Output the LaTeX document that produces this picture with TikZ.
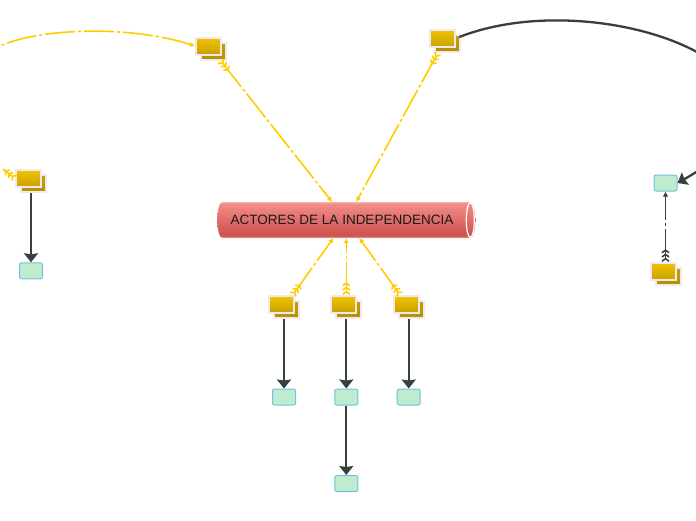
\documentclass[tikz,border=0pt]{standalone}
\usepackage{fontspec}
\setmainfont{Liberation Sans}
\usetikzlibrary{arrows.meta}

\definecolor{linkyellow}{HTML}{FFCC00}
\definecolor{linkdark}{HTML}{36403C}
\definecolor{actortop}{HTML}{F0C400}
\definecolor{actorbottom}{HTML}{C9A000}
\definecolor{actoredge}{HTML}{F1E8F1}
\definecolor{leaffill}{HTML}{BFECCF}
\definecolor{leafedge}{HTML}{6CC4E0}
\definecolor{hubpale}{HTML}{F8ABA9}
\definecolor{hubtop}{HTML}{F28B88}
\definecolor{hubbottom}{HTML}{CF5552}

\pgfdeclareverticalshading{hubshade}{100bp}{
    color(0bp)=(hubpale);
    color(25bp)=(hubpale);
    color(28bp)=(hubbottom);
    color(32bp)=(hubbottom);
    color(72bp)=(hubtop);
    color(75bp)=(hubpale);
    color(100bp)=(hubpale)
}

\tikzset{
    feather/.tip={Straight Barb[reversed,length=2.5pt,width=7pt,sep=0pt]
        Straight Barb[reversed,length=2.5pt,width=7pt,sep=0pt]
        Straight Barb[reversed,length=2.5pt,width=7pt,sep=0pt]},
    actorfront/.style={
        draw=actoredge,
        line width=2pt,
        top color=actortop,
        bottom color=actorbottom,
        minimum width=25pt,
        minimum height=17pt,
        inner sep=0pt
    },
    actorback/.style={
        actorfront,
        top color=actorbottom,
        bottom color=actorbottom!90!black
    },
    actorframe/.style={
        minimum width=31pt,
        minimum height=24pt,
        inner sep=0pt,
        outer sep=0pt
    },
    leaf/.style={
        draw=leafedge,
        fill=leaffill,
        line width=1pt,
        rounded corners=2pt,
        minimum width=23pt,
        minimum height=16pt,
        inner sep=0pt
    },
    yellowlink/.style={
        linkyellow,
        line width=1.6pt,
        dash pattern=on 30pt off 3pt on 3pt off 3pt,
        {feather}-{Latex[length=5pt,width=5.5pt]}
    },
    darklink/.style={
        linkdark,
        line width=2.3pt,
        -{Stealth[length=9pt,width=14pt,inset=1pt]}
    }
}

% stack of two boxes, name is the frame round both
\newcommand{\actorstack}[3]{
    \node[actorback] (#1 back) at (#2+2.5,#3+2.5) {};
    \node[actorfront] (#1 front) at (#2-2.5,#3-2.5) {};
    \node[actorframe] (#1) at (#2,#3) {};
}

\begin{document}
\begin{tikzpicture}[x=1pt,y=-1pt]
\useasboundingbox (0,0) rectangle (696,520);
\clip (0,0) rectangle (696,520);
\fill[white] (0,0) rectangle (696,520);

\node[
    minimum width=258pt,
    minimum height=36pt,
    inner sep=0pt,
    outer sep=0pt
] (hub) at (346.3,220) {};
\shade[shading=hubshade]
    ([xshift=5pt]hub.north west) -- ([xshift=-5pt]hub.north east)
    arc[start angle=90,end angle=-90,x radius=5pt,y radius=18pt]
    -- ([xshift=5pt]hub.south west)
    arc[start angle=270,end angle=90,x radius=5pt,y radius=18pt] -- cycle;
\draw[white,line width=1.2pt] ([xshift=-5pt]hub.east) ellipse (4 and 17.4);
\node[text=black!90,font=\fontsize{13.5}{16}\selectfont,inner sep=0pt] (title) at (342,220) {ACTORES DE LA INDEPENDENCIA};

\actorstack{topleft}{211}{48.5}
\actorstack{topright}{444.5}{41}
\actorstack{farleft}{31}{181}
\actorstack{farright}{665.5}{274}
\actorstack{lowleft}{284}{307}
\actorstack{lowmid}{346.3}{307}
\actorstack{lowright}{408.7}{307}

\node[leaf] (leafleft) at (31,270.8) {};
\node[leaf] (leafright) at (665.5,183) {};
\node[leaf] (leafa) at (284,397) {};
\node[leaf] (leafb) at (346.3,397) {};
\node[leaf] (leafc) at (408.7,397) {};
\node[leaf] (leafd) at (346.3,483.5) {};

\coordinate (offleft) at (0,46);
\coordinate (offfar) at (3,169);

\draw[yellowlink] (topleft) -- (hub);
\draw[yellowlink] (topright) -- (hub);
\draw[yellowlink] (lowleft) -- (hub);
\draw[yellowlink] (lowmid) -- (hub);
\draw[yellowlink] (lowright) -- (hub);

\draw[yellowlink,{Latex[length=5pt,width=5.5pt]}-] (topleft front.west) .. controls (130,25) and (40,28) .. (offleft);
\draw[yellowlink,{feather}-] (farleft front.west) -- (offfar);

\draw[darklink] (farleft) -- (leafleft);
\draw[darklink] (lowleft) -- (leafa);
\draw[darklink] (lowmid) -- (leafb);
\draw[darklink] (lowright) -- (leafc);
\draw[darklink] (leafb) -- (leafd);

\draw[darklink,shorten <=4pt] (topright front.east) .. controls (605,-20) and (860,80) .. (leafright.east);
\draw[
    linkdark,
    line width=1.6pt,
    dash pattern=on 30pt off 3pt on 3pt off 3pt,
    {feather}-{Latex[length=5pt,width=5.5pt]}
] (farright) -- (leafright);
\end{tikzpicture}
\end{document}
